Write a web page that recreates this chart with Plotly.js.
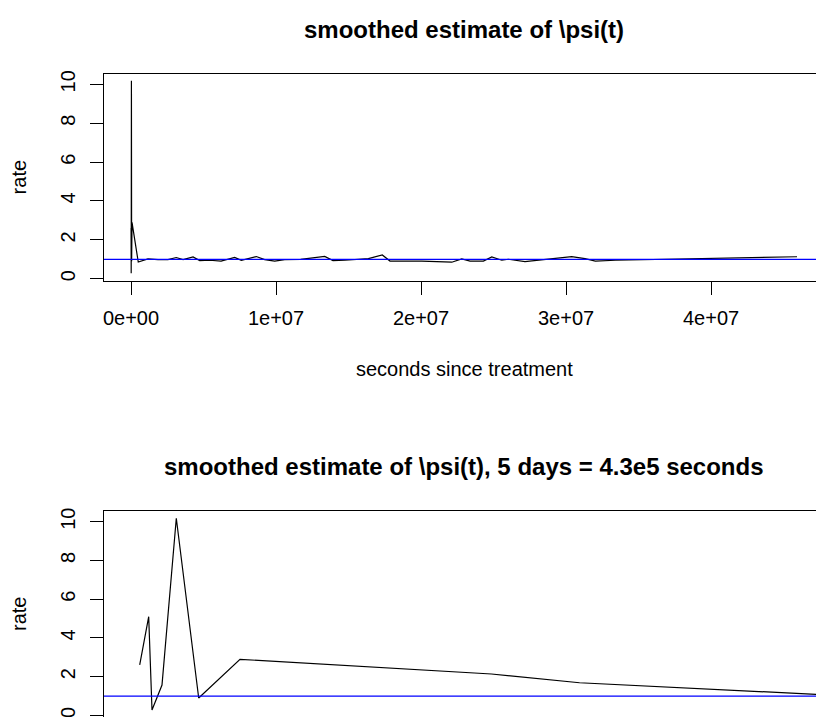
<!DOCTYPE html>
<html>
<head>
<meta charset="utf-8">
<script src="https://cdn.plot.ly/plotly-3.0.1.min.js"></script>
<style>
  html, body { margin: 0; padding: 0; overflow: hidden; background: #ffffff; width: 816px; height: 717px; }
  #chart { width: 877px; height: 873px; }
</style>
</head>
<body>
<div id="chart"></div>
<script>
// ---- data ----
const secondsSinceTreatment = [5611, 11416, 13545, 19995, 29218, 43664, 70302, 232500, 289300, 500000,
  1170000, 1860000, 2550000, 3120000, 3590000, 4280000, 4740000, 5450000, 6210000, 7150000,
  7610000, 8640000, 9220000, 9910000, 10600000, 11700000, 13360000, 13930000, 14740000, 15430000,
  16370000, 17330000, 17860000, 20050000, 22120000, 22810000, 23380000, 24300000, 24880000, 25570000,
  26020000, 27170000, 28320000, 30390000, 31310000, 32020000, 33400000, 45930000];
const rate = [2.61, 5.10, 0.28, 1.57, 10.18, 0.90, 2.90, 2.14, 1.69, 0.86,
  1.02, 0.98, 0.98, 1.09, 0.98, 1.12, 0.93, 0.95, 0.91, 1.10,
  0.95, 1.14, 0.98, 0.91, 0.98, 1.00, 1.15, 0.93, 0.95, 0.98,
  1.03, 1.22, 0.91, 0.91, 0.85, 1.02, 0.91, 0.91, 1.12, 0.95,
  1.00, 0.88, 0.97, 1.14, 1.03, 0.91, 0.95, 1.13];
const referenceRate = 1;

const yTickVals = [0, 2, 4, 6, 8, 10];
const yTickText = ["0", "2", "4", "6", "8", "10"];
const xTickValsTop = [0, 1e7, 2e7, 3e7, 4e7];
const xTickTextTop = ["0e+00", "1e+07", "2e+07", "3e+07", "4e+07"];
const xTickValsBottom = [0, 1e5, 2e5, 3e5, 4e5];

const titleTop = "smoothed estimate of \\psi(t)";
const titleBottom = "smoothed estimate of \\psi(t), 5 days = 4.3e5 seconds";
const xLabel = "seconds since treatment";
const yLabel = "rate";

// ---- styling ----
const FONT = "Liberation Sans, Arial, Helvetica, sans-serif";
const axisCommon = {
  showline: true, mirror: true, linecolor: "#000", linewidth: 1,
  showgrid: false, zeroline: false,
  ticks: "outside", ticklen: 13, tickwidth: 1, tickcolor: "#000",
  tickfont: { family: FONT, size: 20, color: "#000" },
  tickmode: "array", fixedrange: true
};

const traces = [
  { x: secondsSinceTreatment, y: rate, xaxis: "x", yaxis: "y", type: "scatter", mode: "lines",
    line: { color: "#000", width: 1.2 }, hoverinfo: "skip" },
  { x: secondsSinceTreatment, y: rate, xaxis: "x2", yaxis: "y2", type: "scatter", mode: "lines",
    line: { color: "#000", width: 1.2 }, hoverinfo: "skip" }
];

const layout = {
  width: 877, height: 873,
  margin: { l: 104, r: 53, t: 74, b: 155, pad: 0 },
  paper_bgcolor: "#fff", plot_bgcolor: "#fff",
  showlegend: false,
  font: { family: FONT, size: 20, color: "#000" },
  xaxis: Object.assign({}, axisCommon, { anchor: "y", domain: [0, 1], range: [-1.862e6, 4.779e7],
    tickvals: xTickValsTop, ticktext: xTickTextTop, ticklabelstandoff: 6 }),
  yaxis: Object.assign({}, axisCommon, { anchor: "x", domain: [0.679, 1], range: [-0.103, 10.53],
    tickvals: yTickVals, ticktext: yTickText, tickangle: -90, ticklabelstandoff: 7 }),
  xaxis2: Object.assign({}, axisCommon, { anchor: "y2", domain: [0, 1], range: [-17415, 446981],
    tickvals: xTickValsBottom, showticklabels: false }),
  yaxis2: Object.assign({}, axisCommon, { anchor: "x2", domain: [0, 0.3219], range: [-0.13, 10.57],
    tickvals: yTickVals, ticktext: yTickText, tickangle: -90, ticklabelstandoff: 7 }),
  shapes: [
    { type: "line", xref: "x domain", x0: 0, x1: 1, yref: "y", y0: referenceRate, y1: referenceRate,
      line: { color: "#0000ff", width: 1.3 } },
    { type: "line", xref: "x2 domain", x0: 0, x1: 1, yref: "y2", y0: referenceRate, y1: referenceRate,
      line: { color: "#0000ff", width: 1.3 } }
  ],
  annotations: [
    { text: "<b>" + titleTop + "</b>", xref: "paper", yref: "paper", x: 0.5, y: (718 - 29) / 644,
      xanchor: "center", yanchor: "middle", showarrow: false, font: { family: FONT, size: 24, color: "#000" } },
    { text: "<b>" + titleBottom + "</b>", xref: "paper", yref: "paper", x: 0.5, y: (718 - 466) / 644,
      xanchor: "center", yanchor: "middle", showarrow: false, font: { family: FONT, size: 24, color: "#000" } },
    { text: xLabel, xref: "paper", yref: "paper", x: 0.5, y: (718 - 369) / 644,
      xanchor: "center", yanchor: "middle", showarrow: false, font: { family: FONT, size: 20, color: "#000" } },
    { text: yLabel, xref: "paper", yref: "paper", x: (19 - 104) / 720, y: (718 - 177.4) / 644,
      xanchor: "center", yanchor: "middle", textangle: -90, showarrow: false, font: { family: FONT, size: 20, color: "#000" } },
    { text: yLabel, xref: "paper", yref: "paper", x: (19 - 104) / 720, y: (718 - 614) / 644,
      xanchor: "center", yanchor: "middle", textangle: -90, showarrow: false, font: { family: FONT, size: 20, color: "#000" } }
  ]
};

Plotly.newPlot("chart", traces, layout, { displayModeBar: false, staticPlot: true });
</script>
</body>
</html>
